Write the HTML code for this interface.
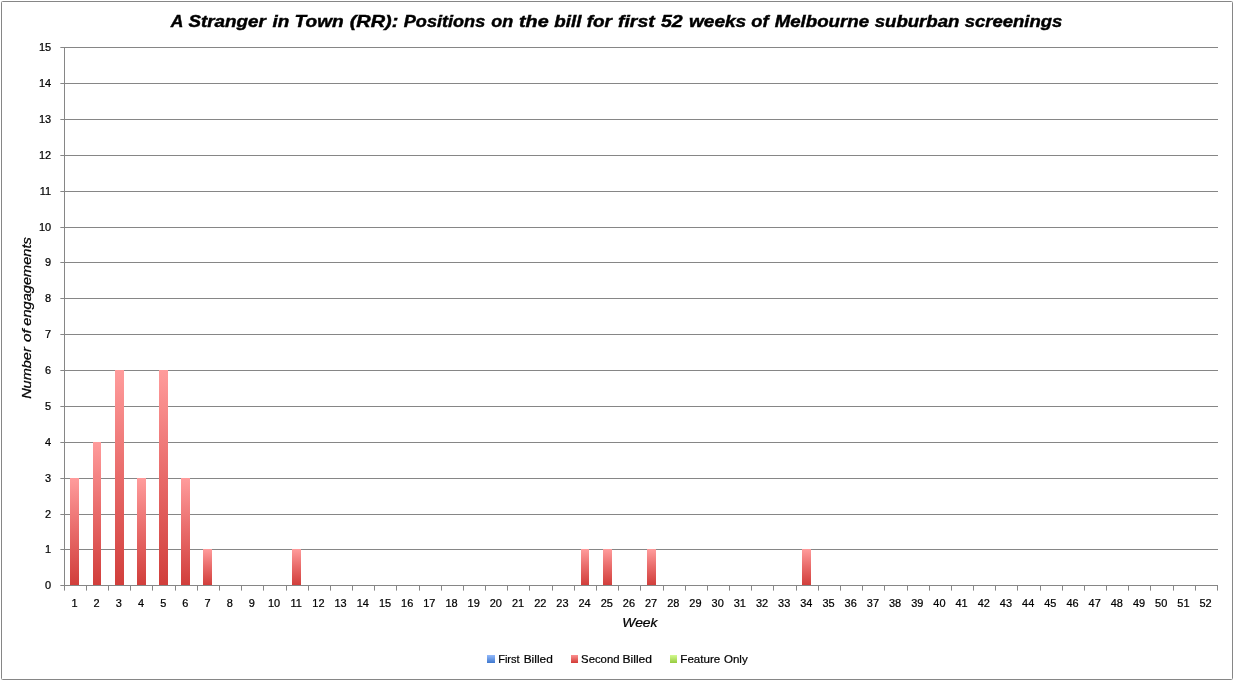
<!DOCTYPE html>
<html lang="en"><head><meta charset="utf-8"><title>A Stranger in Town (RR)</title>
<style>
html,body{margin:0;padding:0;background:#fff;}
body{width:1233px;height:680px;overflow:hidden;position:relative;font-family:"Liberation Sans",sans-serif;color:#000;}
#chart{position:absolute;left:0;top:0;width:1233px;height:680px;overflow:hidden;}
#frame{position:absolute;left:1px;top:1px;width:1230px;height:677px;border:1px solid #868686;border-radius:1.5px;}
.g{position:absolute;left:61px;width:1157px;height:1px;background:#868686;}
.g:before{content:"";position:absolute;left:-1px;top:0;width:1px;height:1px;background:#868686;opacity:.65;}
.xt{position:absolute;top:586px;width:1px;height:5px;background:linear-gradient(to bottom,#868686 0,#868686 4px,#b6b6b6 4px,#b6b6b6 5px);}
#yaxis{position:absolute;left:64px;top:47px;width:1px;height:539px;background:#868686;}
.bar{position:absolute;background:linear-gradient(to bottom,#ff9c9c 0%,#e86a69 50%,#d13e3b 100%);}
#txt{position:absolute;left:0;top:0;will-change:transform;font-family:"Liberation Sans",sans-serif;fill:#000;}
.lg{position:absolute;top:655px;height:8px;}
</style></head><body><div id="chart">
<div id="frame"></div>
<div class="g" style="top:585px"></div>
<div class="g" style="top:549px"></div>
<div class="g" style="top:514px"></div>
<div class="g" style="top:478px"></div>
<div class="g" style="top:442px"></div>
<div class="g" style="top:406px"></div>
<div class="g" style="top:370px"></div>
<div class="g" style="top:334px"></div>
<div class="g" style="top:298px"></div>
<div class="g" style="top:262px"></div>
<div class="g" style="top:227px"></div>
<div class="g" style="top:191px"></div>
<div class="g" style="top:155px"></div>
<div class="g" style="top:119px"></div>
<div class="g" style="top:83px"></div>
<div class="g" style="top:47px"></div>
<div id="yaxis"></div>
<div class="xt" style="left:64px"></div>
<div class="xt" style="left:86px"></div>
<div class="xt" style="left:108px"></div>
<div class="xt" style="left:130px"></div>
<div class="xt" style="left:152px"></div>
<div class="xt" style="left:175px"></div>
<div class="xt" style="left:197px"></div>
<div class="xt" style="left:219px"></div>
<div class="xt" style="left:241px"></div>
<div class="xt" style="left:263px"></div>
<div class="xt" style="left:286px"></div>
<div class="xt" style="left:308px"></div>
<div class="xt" style="left:330px"></div>
<div class="xt" style="left:352px"></div>
<div class="xt" style="left:374px"></div>
<div class="xt" style="left:396px"></div>
<div class="xt" style="left:419px"></div>
<div class="xt" style="left:441px"></div>
<div class="xt" style="left:463px"></div>
<div class="xt" style="left:485px"></div>
<div class="xt" style="left:507px"></div>
<div class="xt" style="left:529px"></div>
<div class="xt" style="left:552px"></div>
<div class="xt" style="left:574px"></div>
<div class="xt" style="left:596px"></div>
<div class="xt" style="left:618px"></div>
<div class="xt" style="left:640px"></div>
<div class="xt" style="left:663px"></div>
<div class="xt" style="left:685px"></div>
<div class="xt" style="left:707px"></div>
<div class="xt" style="left:729px"></div>
<div class="xt" style="left:751px"></div>
<div class="xt" style="left:773px"></div>
<div class="xt" style="left:796px"></div>
<div class="xt" style="left:818px"></div>
<div class="xt" style="left:840px"></div>
<div class="xt" style="left:862px"></div>
<div class="xt" style="left:884px"></div>
<div class="xt" style="left:907px"></div>
<div class="xt" style="left:929px"></div>
<div class="xt" style="left:951px"></div>
<div class="xt" style="left:973px"></div>
<div class="xt" style="left:995px"></div>
<div class="xt" style="left:1017px"></div>
<div class="xt" style="left:1040px"></div>
<div class="xt" style="left:1062px"></div>
<div class="xt" style="left:1084px"></div>
<div class="xt" style="left:1106px"></div>
<div class="xt" style="left:1128px"></div>
<div class="xt" style="left:1150px"></div>
<div class="xt" style="left:1173px"></div>
<div class="xt" style="left:1195px"></div>
<div class="xt" style="left:1217px"></div>
<div class="bar" style="left:70px;top:478px;width:9px;height:107px"></div>
<div class="bar" style="left:93px;top:442px;width:8px;height:143px"></div>
<div class="bar" style="left:115px;top:370px;width:9px;height:215px"></div>
<div class="bar" style="left:137px;top:478px;width:9px;height:107px"></div>
<div class="bar" style="left:159px;top:370px;width:9px;height:215px"></div>
<div class="bar" style="left:181px;top:478px;width:9px;height:107px"></div>
<div class="bar" style="left:203px;top:549px;width:9px;height:36px"></div>
<div class="bar" style="left:292px;top:549px;width:9px;height:36px"></div>
<div class="bar" style="left:581px;top:549px;width:8px;height:36px"></div>
<div class="bar" style="left:603px;top:549px;width:9px;height:36px"></div>
<div class="bar" style="left:647px;top:549px;width:9px;height:36px"></div>
<div class="bar" style="left:802px;top:549px;width:9px;height:36px"></div>
<div class="lg" style="left:487px;width:8px;background:linear-gradient(#94bafb,#3f78ce)"></div>
<div class="lg" style="left:571px;width:7px;background:linear-gradient(#fc9190,#d23a36)"></div>
<div class="lg" style="left:670px;width:7px;background:linear-gradient(#d3fa90,#96cb3e)"></div>
<svg id="txt" width="1233" height="680" viewBox="0 0 1233 680">
<text transform="translate(170.78,26.8) scale(1.0333,1)" font-size="16.9" font-weight="bold" font-style="italic" stroke="#000" stroke-width="0.45">A</text>
<text transform="translate(188.50,26.8) scale(1.1121,1)" font-size="16.9" font-weight="bold" font-style="italic" stroke="#000" stroke-width="0.45">Stranger</text>
<text transform="translate(272.60,26.8) scale(1.1172,1)" font-size="16.9" font-weight="bold" font-style="italic" stroke="#000" stroke-width="0.45">in</text>
<text transform="translate(294.57,26.8) scale(1.1286,1)" font-size="16.9" font-weight="bold" font-style="italic" stroke="#000" stroke-width="0.45">Town</text>
<text transform="translate(349.71,26.8) scale(1.1778,1)" font-size="16.9" font-weight="bold" font-style="italic" stroke="#000" stroke-width="0.45">(RR):</text>
<text transform="translate(403.80,26.8) scale(1.0719,1)" font-size="16.9" font-weight="bold" font-style="italic" stroke="#000" stroke-width="0.45">Positions</text>
<text transform="translate(491.23,26.8) scale(1.0650,1)" font-size="16.9" font-weight="bold" font-style="italic" stroke="#000" stroke-width="0.45">on</text>
<text transform="translate(519.02,26.8) scale(1.1673,1)" font-size="16.9" font-weight="bold" font-style="italic" stroke="#000" stroke-width="0.45">the</text>
<text transform="translate(554.30,26.8) scale(1.1080,1)" font-size="16.9" font-weight="bold" font-style="italic" stroke="#000" stroke-width="0.45">bill</text>
<text transform="translate(586.72,26.8) scale(1.1183,1)" font-size="16.9" font-weight="bold" font-style="italic" stroke="#000" stroke-width="0.45">for</text>
<text transform="translate(618.01,26.8) scale(1.1477,1)" font-size="16.9" font-weight="bold" font-style="italic" stroke="#000" stroke-width="0.45">first</text>
<text transform="translate(661.00,26.8) scale(1.1573,1)" font-size="16.9" font-weight="bold" font-style="italic" stroke="#000" stroke-width="0.45">52</text>
<text transform="translate(688.93,26.8) scale(1.1300,1)" font-size="16.9" font-weight="bold" font-style="italic" stroke="#000" stroke-width="0.45">weeks</text>
<text transform="translate(751.33,26.8) scale(1.0841,1)" font-size="16.9" font-weight="bold" font-style="italic" stroke="#000" stroke-width="0.45">of</text>
<text transform="translate(774.70,26.8) scale(1.1050,1)" font-size="16.9" font-weight="bold" font-style="italic" stroke="#000" stroke-width="0.45">Melbourne</text>
<text transform="translate(874.70,26.8) scale(1.1007,1)" font-size="16.9" font-weight="bold" font-style="italic" stroke="#000" stroke-width="0.45">suburban</text>
<text transform="translate(964.80,26.8) scale(1.0927,1)" font-size="16.9" font-weight="bold" font-style="italic" stroke="#000" stroke-width="0.45">screenings</text>
<text transform="translate(622.36,627.1) scale(1.0388,1)" font-size="13.3" font-weight="normal" font-style="italic" stroke="#000" stroke-width="0.25">Week</text>
<text transform="translate(498.14,662.8) scale(1.0146,1)" font-size="10.9" font-weight="normal" font-style="normal" stroke="#000" stroke-width="0.2">First</text>
<text transform="translate(523.68,662.8) scale(1.0931,1)" font-size="10.9" font-weight="normal" font-style="normal" stroke="#000" stroke-width="0.2">Billed</text>
<text transform="translate(581.08,662.8) scale(1.0389,1)" font-size="10.9" font-weight="normal" font-style="normal" stroke="#000" stroke-width="0.2">Second</text>
<text transform="translate(622.57,662.8) scale(1.1050,1)" font-size="10.9" font-weight="normal" font-style="normal" stroke="#000" stroke-width="0.2">Billed</text>
<text transform="translate(680.30,662.8) scale(1.0658,1)" font-size="10.9" font-weight="normal" font-style="normal" stroke="#000" stroke-width="0.2">Feature</text>
<text transform="translate(723.97,662.8) scale(1.0614,1)" font-size="10.9" font-weight="normal" font-style="normal" stroke="#000" stroke-width="0.2">Only</text>
<text transform="translate(31.4,398.6) rotate(-90) translate(-0.27,0) scale(1.0916,1)" font-size="13.3" font-style="italic" stroke="#000" stroke-width="0.25">Number</text>
<text transform="translate(31.4,398.6) rotate(-90) translate(56.51,0) scale(1.1500,1)" font-size="13.3" font-style="italic" stroke="#000" stroke-width="0.25">of</text>
<text transform="translate(31.4,398.6) rotate(-90) translate(72.93,0) scale(1.0978,1)" font-size="13.3" font-style="italic" stroke="#000" stroke-width="0.25">engagements</text>
<text transform="translate(51.2,588.7) scale(0.93,1)" text-anchor="end" font-size="11.8" stroke="#000" stroke-width="0.25">0</text>
<text transform="translate(51.2,552.7) scale(0.93,1)" text-anchor="end" font-size="11.8" stroke="#000" stroke-width="0.25">1</text>
<text transform="translate(51.2,517.7) scale(0.93,1)" text-anchor="end" font-size="11.8" stroke="#000" stroke-width="0.25">2</text>
<text transform="translate(51.2,481.7) scale(0.93,1)" text-anchor="end" font-size="11.8" stroke="#000" stroke-width="0.25">3</text>
<text transform="translate(51.2,445.7) scale(0.93,1)" text-anchor="end" font-size="11.8" stroke="#000" stroke-width="0.25">4</text>
<text transform="translate(51.2,409.7) scale(0.93,1)" text-anchor="end" font-size="11.8" stroke="#000" stroke-width="0.25">5</text>
<text transform="translate(51.2,373.7) scale(0.93,1)" text-anchor="end" font-size="11.8" stroke="#000" stroke-width="0.25">6</text>
<text transform="translate(51.2,337.7) scale(0.93,1)" text-anchor="end" font-size="11.8" stroke="#000" stroke-width="0.25">7</text>
<text transform="translate(51.2,301.7) scale(0.93,1)" text-anchor="end" font-size="11.8" stroke="#000" stroke-width="0.25">8</text>
<text transform="translate(51.2,265.7) scale(0.93,1)" text-anchor="end" font-size="11.8" stroke="#000" stroke-width="0.25">9</text>
<text transform="translate(51.2,230.7) scale(0.93,1)" text-anchor="end" font-size="11.8" stroke="#000" stroke-width="0.25">10</text>
<text transform="translate(51.2,194.7) scale(0.93,1)" text-anchor="end" font-size="11.8" stroke="#000" stroke-width="0.25">11</text>
<text transform="translate(51.2,158.7) scale(0.93,1)" text-anchor="end" font-size="11.8" stroke="#000" stroke-width="0.25">12</text>
<text transform="translate(51.2,122.7) scale(0.93,1)" text-anchor="end" font-size="11.8" stroke="#000" stroke-width="0.25">13</text>
<text transform="translate(51.2,86.7) scale(0.93,1)" text-anchor="end" font-size="11.8" stroke="#000" stroke-width="0.25">14</text>
<text transform="translate(51.2,50.7) scale(0.93,1)" text-anchor="end" font-size="11.8" stroke="#000" stroke-width="0.25">15</text>
<text transform="translate(74.48,606.6) scale(0.93,1)" text-anchor="middle" font-size="11.8" stroke="#000" stroke-width="0.25">1</text>
<text transform="translate(96.66,606.6) scale(0.93,1)" text-anchor="middle" font-size="11.8" stroke="#000" stroke-width="0.25">2</text>
<text transform="translate(118.84,606.6) scale(0.93,1)" text-anchor="middle" font-size="11.8" stroke="#000" stroke-width="0.25">3</text>
<text transform="translate(141.01,606.6) scale(0.93,1)" text-anchor="middle" font-size="11.8" stroke="#000" stroke-width="0.25">4</text>
<text transform="translate(163.19,606.6) scale(0.93,1)" text-anchor="middle" font-size="11.8" stroke="#000" stroke-width="0.25">5</text>
<text transform="translate(185.37,606.6) scale(0.93,1)" text-anchor="middle" font-size="11.8" stroke="#000" stroke-width="0.25">6</text>
<text transform="translate(207.55,606.6) scale(0.93,1)" text-anchor="middle" font-size="11.8" stroke="#000" stroke-width="0.25">7</text>
<text transform="translate(229.72,606.6) scale(0.93,1)" text-anchor="middle" font-size="11.8" stroke="#000" stroke-width="0.25">8</text>
<text transform="translate(251.90,606.6) scale(0.93,1)" text-anchor="middle" font-size="11.8" stroke="#000" stroke-width="0.25">9</text>
<text transform="translate(274.08,606.6) scale(0.93,1)" text-anchor="middle" font-size="11.8" stroke="#000" stroke-width="0.25">10</text>
<text transform="translate(296.26,606.6) scale(0.93,1)" text-anchor="middle" font-size="11.8" stroke="#000" stroke-width="0.25">11</text>
<text transform="translate(318.44,606.6) scale(0.93,1)" text-anchor="middle" font-size="11.8" stroke="#000" stroke-width="0.25">12</text>
<text transform="translate(340.62,606.6) scale(0.93,1)" text-anchor="middle" font-size="11.8" stroke="#000" stroke-width="0.25">13</text>
<text transform="translate(362.79,606.6) scale(0.93,1)" text-anchor="middle" font-size="11.8" stroke="#000" stroke-width="0.25">14</text>
<text transform="translate(384.97,606.6) scale(0.93,1)" text-anchor="middle" font-size="11.8" stroke="#000" stroke-width="0.25">15</text>
<text transform="translate(407.15,606.6) scale(0.93,1)" text-anchor="middle" font-size="11.8" stroke="#000" stroke-width="0.25">16</text>
<text transform="translate(429.33,606.6) scale(0.93,1)" text-anchor="middle" font-size="11.8" stroke="#000" stroke-width="0.25">17</text>
<text transform="translate(451.50,606.6) scale(0.93,1)" text-anchor="middle" font-size="11.8" stroke="#000" stroke-width="0.25">18</text>
<text transform="translate(473.68,606.6) scale(0.93,1)" text-anchor="middle" font-size="11.8" stroke="#000" stroke-width="0.25">19</text>
<text transform="translate(495.86,606.6) scale(0.93,1)" text-anchor="middle" font-size="11.8" stroke="#000" stroke-width="0.25">20</text>
<text transform="translate(518.04,606.6) scale(0.93,1)" text-anchor="middle" font-size="11.8" stroke="#000" stroke-width="0.25">21</text>
<text transform="translate(540.22,606.6) scale(0.93,1)" text-anchor="middle" font-size="11.8" stroke="#000" stroke-width="0.25">22</text>
<text transform="translate(562.39,606.6) scale(0.93,1)" text-anchor="middle" font-size="11.8" stroke="#000" stroke-width="0.25">23</text>
<text transform="translate(584.57,606.6) scale(0.93,1)" text-anchor="middle" font-size="11.8" stroke="#000" stroke-width="0.25">24</text>
<text transform="translate(606.75,606.6) scale(0.93,1)" text-anchor="middle" font-size="11.8" stroke="#000" stroke-width="0.25">25</text>
<text transform="translate(628.93,606.6) scale(0.93,1)" text-anchor="middle" font-size="11.8" stroke="#000" stroke-width="0.25">26</text>
<text transform="translate(651.11,606.6) scale(0.93,1)" text-anchor="middle" font-size="11.8" stroke="#000" stroke-width="0.25">27</text>
<text transform="translate(673.28,606.6) scale(0.93,1)" text-anchor="middle" font-size="11.8" stroke="#000" stroke-width="0.25">28</text>
<text transform="translate(695.46,606.6) scale(0.93,1)" text-anchor="middle" font-size="11.8" stroke="#000" stroke-width="0.25">29</text>
<text transform="translate(717.64,606.6) scale(0.93,1)" text-anchor="middle" font-size="11.8" stroke="#000" stroke-width="0.25">30</text>
<text transform="translate(739.82,606.6) scale(0.93,1)" text-anchor="middle" font-size="11.8" stroke="#000" stroke-width="0.25">31</text>
<text transform="translate(762.00,606.6) scale(0.93,1)" text-anchor="middle" font-size="11.8" stroke="#000" stroke-width="0.25">32</text>
<text transform="translate(784.18,606.6) scale(0.93,1)" text-anchor="middle" font-size="11.8" stroke="#000" stroke-width="0.25">33</text>
<text transform="translate(806.35,606.6) scale(0.93,1)" text-anchor="middle" font-size="11.8" stroke="#000" stroke-width="0.25">34</text>
<text transform="translate(828.53,606.6) scale(0.93,1)" text-anchor="middle" font-size="11.8" stroke="#000" stroke-width="0.25">35</text>
<text transform="translate(850.71,606.6) scale(0.93,1)" text-anchor="middle" font-size="11.8" stroke="#000" stroke-width="0.25">36</text>
<text transform="translate(872.89,606.6) scale(0.93,1)" text-anchor="middle" font-size="11.8" stroke="#000" stroke-width="0.25">37</text>
<text transform="translate(895.07,606.6) scale(0.93,1)" text-anchor="middle" font-size="11.8" stroke="#000" stroke-width="0.25">38</text>
<text transform="translate(917.24,606.6) scale(0.93,1)" text-anchor="middle" font-size="11.8" stroke="#000" stroke-width="0.25">39</text>
<text transform="translate(939.42,606.6) scale(0.93,1)" text-anchor="middle" font-size="11.8" stroke="#000" stroke-width="0.25">40</text>
<text transform="translate(961.60,606.6) scale(0.93,1)" text-anchor="middle" font-size="11.8" stroke="#000" stroke-width="0.25">41</text>
<text transform="translate(983.78,606.6) scale(0.93,1)" text-anchor="middle" font-size="11.8" stroke="#000" stroke-width="0.25">42</text>
<text transform="translate(1005.96,606.6) scale(0.93,1)" text-anchor="middle" font-size="11.8" stroke="#000" stroke-width="0.25">43</text>
<text transform="translate(1028.13,606.6) scale(0.93,1)" text-anchor="middle" font-size="11.8" stroke="#000" stroke-width="0.25">44</text>
<text transform="translate(1050.31,606.6) scale(0.93,1)" text-anchor="middle" font-size="11.8" stroke="#000" stroke-width="0.25">45</text>
<text transform="translate(1072.49,606.6) scale(0.93,1)" text-anchor="middle" font-size="11.8" stroke="#000" stroke-width="0.25">46</text>
<text transform="translate(1094.67,606.6) scale(0.93,1)" text-anchor="middle" font-size="11.8" stroke="#000" stroke-width="0.25">47</text>
<text transform="translate(1116.85,606.6) scale(0.93,1)" text-anchor="middle" font-size="11.8" stroke="#000" stroke-width="0.25">48</text>
<text transform="translate(1139.02,606.6) scale(0.93,1)" text-anchor="middle" font-size="11.8" stroke="#000" stroke-width="0.25">49</text>
<text transform="translate(1161.20,606.6) scale(0.93,1)" text-anchor="middle" font-size="11.8" stroke="#000" stroke-width="0.25">50</text>
<text transform="translate(1183.38,606.6) scale(0.93,1)" text-anchor="middle" font-size="11.8" stroke="#000" stroke-width="0.25">51</text>
<text transform="translate(1205.56,606.6) scale(0.93,1)" text-anchor="middle" font-size="11.8" stroke="#000" stroke-width="0.25">52</text>
</svg>
</div></body></html>
